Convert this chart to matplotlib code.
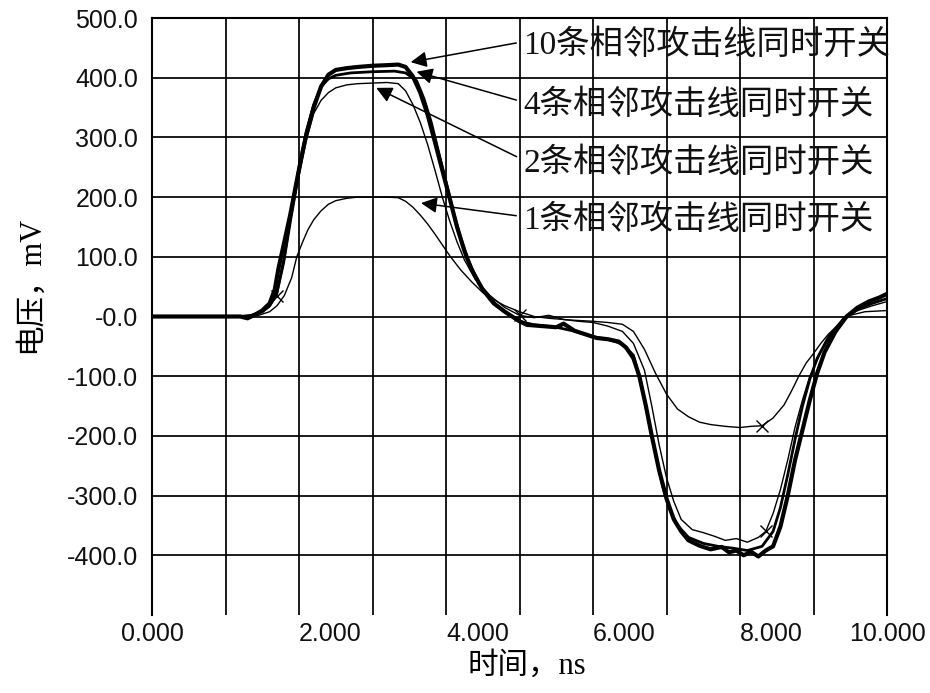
import matplotlib
matplotlib.use("Agg")
import matplotlib.pyplot as plt

plt.rcParams['font.family'] = ['Liberation Sans', 'Noto Sans CJK SC', 'DejaVu Sans']

# ---------------- data (time in ns, voltage in mV) ----------------
t10 = [0.0, 1.0, 1.2, 1.3, 1.4, 1.5, 1.6, 1.67, 1.72, 1.8, 1.88, 1.95, 2.03, 2.1, 2.2, 2.3,
       2.4, 2.5, 2.65, 2.8, 3.0, 3.2, 3.35, 3.45, 3.55, 3.65, 3.75, 3.85, 3.95, 4.05, 4.15,
       4.25, 4.35, 4.5, 4.65, 4.8, 5.0, 5.1, 5.3, 5.5, 5.6, 5.75, 5.9, 6.05, 6.2, 6.35,
       6.45, 6.55, 6.63, 6.72, 6.8, 6.9, 7.0, 7.1, 7.2, 7.3, 7.45, 7.6, 7.75, 7.85, 7.95,
       8.05, 8.15, 8.25, 8.35, 8.45, 8.55, 8.65, 8.75, 8.85, 8.95, 9.05, 9.15, 9.3, 9.45,
       9.6, 9.75, 9.9, 10.0]
v10 = [0, 0, 0, -3, 3, 10, 22, 45, 80, 125, 170, 215, 265, 305, 350, 385,
       405, 413, 416, 418, 420, 421, 422, 418, 402, 375, 338, 292, 245, 198, 150,
       110, 78, 45, 22, 8, -8, -14, -16, -18, -12, -24, -30, -36, -38, -42,
       -52, -70, -100, -150, -200, -258, -305, -340, -360, -375, -384, -390, -386, -395, -392,
       -400, -394, -402, -392, -385, -352, -300, -240, -190, -140, -95, -60, -25, 0,
       15, 25, 32, 38]

t4 = [0.0, 1.0, 1.2, 1.35, 1.5, 1.6, 1.7, 1.8, 1.9, 2.0, 2.1, 2.2, 2.3, 2.4, 2.5, 2.7,
      3.0, 3.3, 3.45, 3.6, 3.7, 3.8, 3.9, 4.0, 4.1, 4.2, 4.3, 4.45, 4.6, 4.8, 5.0, 5.2,
      5.5, 5.8, 6.0, 6.2, 6.4, 6.55, 6.65, 6.75, 6.85, 6.95, 7.05, 7.15, 7.3, 7.5, 7.7,
      7.9, 8.1, 8.3, 8.45, 8.55, 8.65, 8.75, 8.85, 8.95, 9.05, 9.2, 9.4, 9.6, 9.8, 10.0]
v4 = [0, 0, 0, 2, 8, 18, 40, 100, 180, 250, 310, 355, 385, 398, 404, 408,
      410, 411, 408, 395, 365, 325, 275, 225, 175, 132, 95, 55, 28, 8, -8, -14,
      -18, -26, -34, -38, -46, -65, -110, -170, -230, -285, -325, -350, -370, -380, -385,
      -388, -392, -385, -360, -320, -265, -205, -150, -105, -70, -35, -5, 12, 22, 30]

t2 = [0.0, 1.0, 1.2, 1.35, 1.5, 1.6, 1.7, 1.8, 1.9, 2.0, 2.1, 2.2, 2.3, 2.4, 2.5, 2.65,
      2.8, 3.0, 3.2, 3.35, 3.45, 3.55, 3.65, 3.75, 3.85, 3.95, 4.05, 4.15, 4.25, 4.4,
      4.6, 4.8, 5.0, 5.2, 5.4, 5.6, 5.8, 6.0, 6.2, 6.4, 6.55, 6.7, 6.8, 6.9, 7.0, 7.1,
      7.2, 7.35, 7.5, 7.65, 7.8, 7.95, 8.1, 8.25, 8.35, 8.45, 8.55, 8.65, 8.75, 8.85,
      8.95, 9.1, 9.25, 9.4, 9.6, 9.8, 10.0]
v2 = [0, 0, 0, 2, 7, 16, 35, 90, 165, 235, 295, 340, 362, 375, 383, 388,
      390, 391, 392, 390, 378, 355, 325, 288, 245, 200, 160, 125, 95, 62,
      35, 15, 2, -2, 2, -5, -8, -10, -16, -25, -45, -90, -150, -215, -270, -310,
      -340, -357, -362, -368, -375, -372, -378, -370, -360, -330, -290, -240, -185, -140,
      -100, -60, -30, -5, 10, 18, 25]

t1 = [0.0, 1.0, 1.3, 1.45, 1.6, 1.7, 1.8, 1.9, 1.97, 2.05, 2.12, 2.2, 2.3, 2.4, 2.5,
      2.65, 2.8, 3.0, 3.2, 3.35, 3.45, 3.55, 3.65, 3.75, 3.85, 3.95, 4.05, 4.2, 4.35,
      4.5, 4.65, 4.8, 5.0, 5.2, 5.4, 5.7, 6.0, 6.2, 6.4, 6.55, 6.7, 6.85, 7.0, 7.15,
      7.3, 7.45, 7.6, 7.8, 8.0, 8.15, 8.3, 8.45, 8.6, 8.7, 8.8, 8.9, 9.0, 9.1, 9.2,
      9.35, 9.5, 9.7, 10.0]
v1 = [0, 0, 0, 2, 8, 18, 35, 65, 100, 125, 145, 162, 177, 188, 194,
      198, 200, 200, 200, 199, 193, 183, 170, 155, 138, 120, 102, 78, 58,
      40, 28, 18, 8, 0, -3, -6, -8, -10, -13, -25, -55, -95, -130, -155,
      -168, -177, -181, -184, -186, -184, -183, -170, -148, -125, -100, -78, -62, -45, -30,
      -12, 2, 8, 10]

# indices of the small "x" symbols drawn on the thin traces
marks1 = [50]
marks2 = [6, 32, 54]

labels = ['10条相邻攻击线同时开关', '4条相邻攻击线同时开关',
          '2条相邻攻击线同时开关', '1条相邻攻击线同时开关']
label_pos = [(5.05, 455), (5.05, 354), (5.05, 257), (5.05, 162)]
arrow_tips = [(3.52, 426), (3.6, 410), (3.05, 383), (3.66, 190)]

xticks = [0, 1, 2, 3, 4, 5, 6, 7, 8, 9, 10]
xticklabels = ['0.000', '', '2.000', '', '4.000', '', '6.000', '', '8.000', '', '10.000']
yticks = [-400, -300, -200, -100, 0, 100, 200, 300, 400, 500]
yticklabels = ['-400.0', '-300.0', '-200.0', '-100.0', '-0.0', '100.0', '200.0',
               '300.0', '400.0', '500.0']

# ---------------- figure ----------------
fig = plt.figure(figsize=(9.3, 6.93), dpi=100)
ax = fig.add_axes([152 / 930, 1 - 615 / 693, (887 - 152) / 930, (615 - 18) / 693])

ax.plot(t1, v1, color='black', lw=1.0, marker='x', markevery=marks1,
        markersize=8, markeredgewidth=1.0, zorder=3)
ax.plot(t2, v2, color='black', lw=1.0, marker='x', markevery=marks2,
        markersize=8, markeredgewidth=1.0, zorder=3)
ax.plot(t4, v4, color='black', lw=2.0, solid_joinstyle='round', zorder=3)
ax.plot(t10, v10, color='black', lw=3.0, solid_joinstyle='round', zorder=3)

ax.set_xlim(0, 10)
ax.set_ylim(-500, 500)
ax.set_xticks(xticks)
ax.set_xticklabels(xticklabels)
ax.set_yticks(yticks)
ax.set_yticklabels(yticklabels)
ax.tick_params(axis='both', length=0, labelsize=18, colors='#111111')
ax.tick_params(axis='x', pad=5)
ax.tick_params(axis='y', pad=10)
for lab, val in zip(ax.get_xticklabels(), xticks):
    if val in (2, 4, 6, 8):
        lab.set_horizontalalignment('left')

ax.grid(True, color='black', lw=1.25, zorder=1)
for s in ['left', 'top', 'right']:
    ax.spines[s].set_linewidth(1.5)
ax.spines['bottom'].set_visible(False)

serif_cjk = ['Liberation Serif', 'Noto Sans CJK SC']
for lab, pos, tip in zip(labels, label_pos, arrow_tips):
    ax.annotate(lab, xy=tip, xytext=pos, ha='left', va='center',
                fontsize=24, family=serif_cjk, color='#111111',
                arrowprops=dict(arrowstyle='-|>', color='black', lw=1.1,
                                mutation_scale=24, shrinkA=3, shrinkB=0,
                                relpos=(0, 0.6)), zorder=5)

ax.set_xlabel('时间，ns', family=serif_cjk, fontsize=22)
ax.xaxis.set_label_coords(0.51, -0.062)
ax.xaxis.label.set_verticalalignment('top')
ax.set_ylabel('电压，mV', family=serif_cjk, fontsize=22)
ax.yaxis.set_label_coords(-0.146, 0.553)

fig.savefig('out.png', dpi=100, facecolor='white')
